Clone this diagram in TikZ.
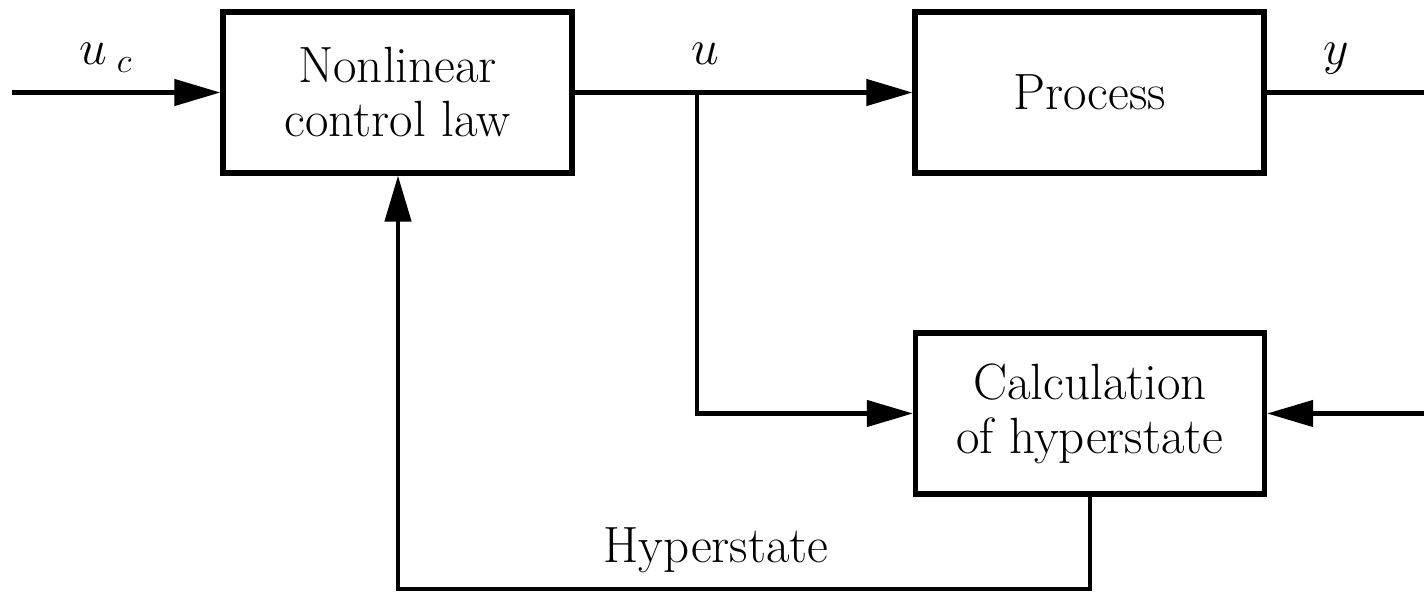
\documentclass[tikz,border=0pt]{standalone}
\usetikzlibrary{arrows.meta}
\begin{document}
\begin{tikzpicture}[x=0.5pt,y=-0.5pt,
  block/.style={draw,line width=2.6pt,minimum width=174.5pt,minimum height=80.5pt,
    inner sep=0pt,align=center,font=\fontsize{25.5}{27}\selectfont},
  wire/.style={line width=2.2pt},
  sig/.style={wire,-{Triangle[length=23pt,width=13pt]}},
  lbl/.style={anchor=base,inner sep=0pt,font=\fontsize{25.5}{27}\selectfont}]
\useasboundingbox (0,0) rectangle (1424,592);

% blocks
\node[block] (law) at (397.5,92.5) {Nonlinear\\control law};
\node[block] (proc) at (1089.5,92.5) {Process};
\node[block] (hyp) at (1090,413.5) {Calculation\\of hyperstate};

% free ends and corners
\coordinate (uin) at (12,92.5);
\coordinate (yout) at (1424,92.5);
\coordinate (yin) at (1424,413.5);
\coordinate (br) at (697,92.5);
\coordinate (fb) at (398,589);

% signal lines
\draw[sig] (uin) -- (law.west);
\draw[sig] (law.east) -- (proc.west);
\draw[sig] (br) |- (hyp.west);
\draw[wire] (proc.east) -- (yout);
\draw[sig] (yin) -- (hyp.east);
\draw[sig] (hyp.south) |- (fb) -- (law.south -| fb);

% labels
\node[lbl] (luc) at (106,65) {$u_{\;c}$};
\node[lbl] (lu) at (705,65) {$u$};
\node[lbl] (ly) at (1336,65) {$y$};
\node[lbl] (lh) at (716,563) {Hyperstate};
\end{tikzpicture}
\end{document}
